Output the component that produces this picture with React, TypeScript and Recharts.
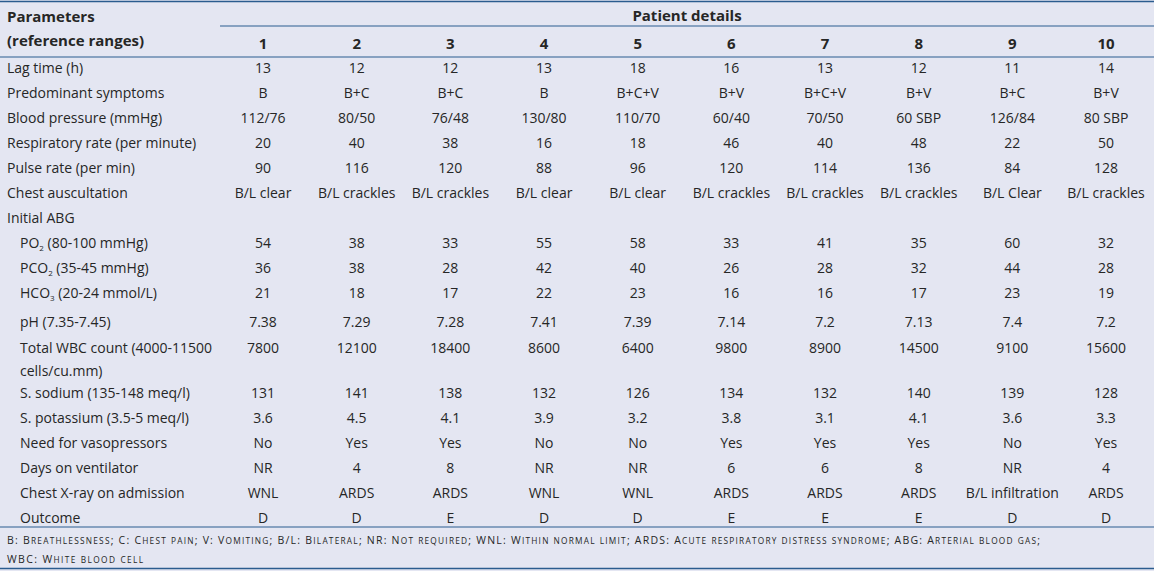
import React from 'react';
import { ComposedChart, Scatter, XAxis, YAxis, ReferenceLine } from 'recharts';

const patients = ['1', '2', '3', '4', '5', '6', '7', '8', '9', '10'];

const lagTime = ['13', '12', '12', '13', '18', '16', '13', '12', '11', '14'];
const symptoms = ['B', 'B+C', 'B+C', 'B', 'B+C+V', 'B+V', 'B+C+V', 'B+V', 'B+C', 'B+V'];
const bloodPressure = ['112/76', '80/50', '76/48', '130/80', '110/70', '60/40', '70/50', '60 SBP', '126/84', '80 SBP'];
const respRate = ['20', '40', '38', '16', '18', '46', '40', '48', '22', '50'];
const pulseRate = ['90', '116', '120', '88', '96', '120', '114', '136', '84', '128'];
const auscultation = ['B/L clear', 'B/L crackles', 'B/L crackles', 'B/L clear', 'B/L clear', 'B/L crackles', 'B/L crackles', 'B/L crackles', 'B/L Clear', 'B/L crackles'];
const po2 = ['54', '38', '33', '55', '58', '33', '41', '35', '60', '32'];
const pco2 = ['36', '38', '28', '42', '40', '26', '28', '32', '44', '28'];
const hco3 = ['21', '18', '17', '22', '23', '16', '16', '17', '23', '19'];
const ph = ['7.38', '7.29', '7.28', '7.41', '7.39', '7.14', '7.2', '7.13', '7.4', '7.2'];
const wbc = ['7800', '12100', '18400', '8600', '6400', '9800', '8900', '14500', '9100', '15600'];
const sodium = ['131', '141', '138', '132', '126', '134', '132', '140', '139', '128'];
const potassium = ['3.6', '4.5', '4.1', '3.9', '3.2', '3.8', '3.1', '4.1', '3.6', '3.3'];
const vasopressors = ['No', 'Yes', 'Yes', 'No', 'No', 'Yes', 'Yes', 'Yes', 'No', 'Yes'];
const ventilatorDays = ['NR', '4', '8', 'NR', 'NR', '6', '6', '8', 'NR', '4'];
const chestXray = ['WNL', 'ARDS', 'ARDS', 'WNL', 'WNL', 'ARDS', 'ARDS', 'ARDS', 'B/L infiltration', 'ARDS'];
const outcome = ['D', 'D', 'E', 'D', 'D', 'E', 'E', 'E', 'D', 'D'];

const footnotes = [
  'B: Breathlessness; C: Chest pain; V: Vomiting; B/L: Bilateral; NR: Not required; WNL: Within normal limit; ARDS: Acute respiratory distress syndrome; ABG: Arterial blood gas;',
  'WBC: White blood cell',
];
const footnoteWidths = [1033, 136];

type Row = { label: string; sub?: string; rest?: string; line2?: string; indent?: boolean; values: string[] | null };

const rows: Row[] = [
  { label: 'Lag time (h)', values: lagTime },
  { label: 'Predominant symptoms', values: symptoms },
  { label: 'Blood pressure (mmHg)', values: bloodPressure },
  { label: 'Respiratory rate (per minute)', values: respRate },
  { label: 'Pulse rate (per min)', values: pulseRate },
  { label: 'Chest auscultation', values: auscultation },
  { label: 'Initial ABG', values: null },
  { label: 'PO', sub: '2', rest: ' (80-100 mmHg)', indent: true, values: po2 },
  { label: 'PCO', sub: '2', rest: ' (35-45 mmHg)', indent: true, values: pco2 },
  { label: 'HCO', sub: '3', rest: ' (20-24 mmol/L)', indent: true, values: hco3 },
  { label: 'pH (7.35-7.45)', indent: true, values: ph },
  { label: 'Total WBC count (4000-11500', line2: 'cells/cu.mm)', indent: true, values: wbc },
  { label: 'S. sodium (135-148 meq/l)', indent: true, values: sodium },
  { label: 'S. potassium (3.5-5 meq/l)', indent: true, values: potassium },
  { label: 'Need for vasopressors', indent: true, values: vasopressors },
  { label: 'Days on ventilator', indent: true, values: ventilatorDays },
  { label: 'Chest X-ray on admission', indent: true, values: chestXray },
  { label: 'Outcome', indent: true, values: outcome },
];

// vertical slot of each row (1 slot = one text line)
const rowSlots = [0, 1, 2, 3, 4, 5, 6, 7, 8, 9, 10.16, 11.2, 13, 14, 15, 16, 17, 18];

const X_DOMAIN: [number, number] = [-1.808, 10.512];
const Y_DOMAIN: [number, number] = [-2.68, 20.16];
const LABEL_X = -1.733;
const LINE_COLOR = '#2b5c8f';
const TEXT_COLOR = '#262626';
const FONT = '"Open Sans", sans-serif';

const cellData = rows.flatMap((r, i) =>
  (r.values || []).map((v, j) => ({ x: j + 1, y: rowSlots[i], text: v }))
);
const labelData = rows.map((r, i) => ({ x: LABEL_X, y: rowSlots[i], row: r }));
const headerNumbers = patients.map((p, j) => ({ x: j + 1, y: -0.96, text: p }));
const headerLeft = [
  { x: LABEL_X, y: -2.04, text: 'Parameters' },
  { x: LABEL_X, y: -1.08, text: '(reference ranges)' },
];
const headerGroup = [{ x: (0.541 + X_DOMAIN[1]) / 2, y: -2.08, text: 'Patient details' }];
const footData = footnotes.map((t, i) => ({ x: LABEL_X, y: [18.92, 19.68][i], text: t, width: footnoteWidths[i] }));

const CellText = (props: any) => (
  <text x={props.cx} y={props.cy} textAnchor="middle" dominantBaseline="central" fontSize={14} fill={TEXT_COLOR} fontFamily={FONT}>
    {props.payload.text}
  </text>
);

const BoldCenter = (props: any) => (
  <text x={props.cx} y={props.cy} textAnchor="middle" dominantBaseline="central" fontSize={15} fontWeight={700} fill={TEXT_COLOR} fontFamily={FONT}>
    {props.payload.text}
  </text>
);

const BoldLeft = (props: any) => (
  <text x={props.cx} y={props.cy} textAnchor="start" dominantBaseline="central" fontSize={15} fontWeight={700} fill={TEXT_COLOR} fontFamily={FONT}>
    {props.payload.text}
  </text>
);

// hand-made small caps: lowercase runs drawn as smaller capitals
const FootText = (props: any) => {
  const parts: string[] = props.payload.text.match(/[a-z]+|[^a-z]+/g) || [];
  return (
    <text
      x={props.cx}
      y={props.cy + 4}
      textAnchor="start"
      fontSize={10.5}
      fill={TEXT_COLOR}
      fontFamily={FONT}
      textLength={props.payload.width}
      lengthAdjust="spacing"
    >
      {parts.map((p, i) =>
        /[a-z]/.test(p) ? (
          <tspan key={i} fontSize={8.3}>
            {p.toUpperCase()}
          </tspan>
        ) : (
          <tspan key={i}>{p}</tspan>
        )
      )}
    </text>
  );
};

const LabelText = (props: any) => {
  const r: Row = props.payload.row;
  const x = props.cx + (r.indent ? 13 : 0);
  return (
    <text x={x} y={props.cy} textAnchor="start" dominantBaseline="central" fontSize={14} fill={TEXT_COLOR} fontFamily={FONT}>
      {r.label}
      {r.sub && (
        <tspan fontSize={8} dy={5}>
          {r.sub}
        </tspan>
      )}
      {r.rest && <tspan dy={r.sub ? -5 : 0}>{r.rest}</tspan>}
      {r.line2 && (
        <tspan x={x} dy={23}>
          {r.line2}
        </tspan>
      )}
    </text>
  );
};

export default function App() {
  return (
    <div style={{ width: 1154, height: 571, background: '#e4e6f2' }}>
      <style>{'body{margin:0}'}</style>
      <ComposedChart width={1154} height={571} margin={{ top: 0, right: 0, bottom: 0, left: 0 }}>
        <XAxis dataKey="x" type="number" domain={X_DOMAIN} allowDataOverflow hide />
        <YAxis dataKey="y" type="number" domain={Y_DOMAIN} allowDataOverflow reversed hide />
        <ReferenceLine y={-2.62} stroke={LINE_COLOR} strokeWidth={1.5} />
        <ReferenceLine segment={[{ x: 0.541, y: -1.64 }, { x: X_DOMAIN[1], y: -1.64 }]} stroke={LINE_COLOR} strokeWidth={1.2} />
        <ReferenceLine y={-0.4} stroke={LINE_COLOR} strokeWidth={1.2} />
        <ReferenceLine y={18.4} stroke={LINE_COLOR} strokeWidth={1.2} />
        <ReferenceLine y={20.06} stroke={LINE_COLOR} strokeWidth={1.5} />
        <Scatter data={headerLeft} shape={BoldLeft} isAnimationActive={false} />
        <Scatter data={headerGroup} shape={BoldCenter} isAnimationActive={false} />
        <Scatter data={headerNumbers} shape={BoldCenter} isAnimationActive={false} />
        <Scatter data={labelData} shape={LabelText} isAnimationActive={false} />
        <Scatter data={cellData} shape={CellText} isAnimationActive={false} />
        <Scatter data={footData} shape={FootText} isAnimationActive={false} />
      </ComposedChart>
    </div>
  );
}
